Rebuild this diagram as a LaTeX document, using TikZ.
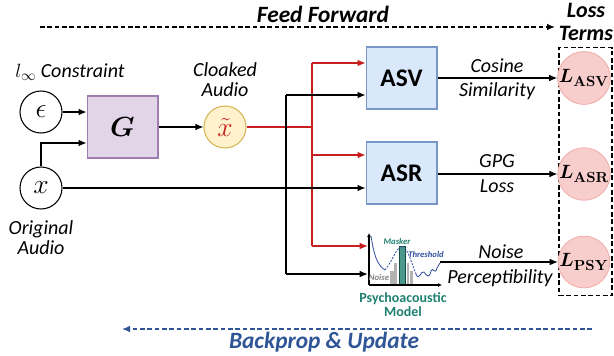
\documentclass[tikz,border=0pt]{standalone}
\usepackage{amsmath,bm}
\usepackage[no-math]{fontspec}
\setmainfont{Carlito}
\usetikzlibrary{arrows.meta}
\definecolor{redl}{RGB}{200,30,30}
\definecolor{asvfill}{RGB}{218,232,252}
\definecolor{asvdraw}{RGB}{120,150,200}
\definecolor{gfill}{RGB}{225,213,231}
\definecolor{gdraw}{RGB}{160,125,175}
\definecolor{xtfill}{RGB}{255,242,204}
\definecolor{xtdraw}{RGB}{214,182,86}
\definecolor{lfill}{RGB}{248,206,204}
\definecolor{ldraw}{RGB}{240,170,168}
\definecolor{bpblue}{RGB}{47,85,151}
\definecolor{psyteal}{RGB}{30,128,112}
\definecolor{curveblue}{RGB}{50,80,160}
\begin{document}
\begin{tikzpicture}[x=0.75pt,y=-0.75pt,
  arr/.style={-{Latex[length=6pt,width=5pt]}, line width=0.8pt},
  redln/.style={draw=redl, line width=0.8pt},
  redarr/.style={redln, -{Latex[length=6pt,width=5pt]}},
  circ/.style={circle, draw, line width=0.8pt, minimum size=31.5pt, inner sep=0pt, font=\fontsize{20}{20}\selectfont},
  lossc/.style={circle, fill=lfill, draw=ldraw, line width=0.6pt, minimum size=36pt, inner sep=0pt, font=\fontsize{15}{15}\selectfont},
  modbox/.style={draw=asvdraw, fill=asvfill, line width=1pt, minimum width=53pt, minimum height=46.5pt, inner sep=0pt, font=\fontsize{19}{20}\selectfont\bfseries},
  gbox/.style={draw=gdraw, fill=gfill, line width=1pt, minimum width=53pt, minimum height=46.5pt, inner sep=0pt, font=\fontsize{22}{22}\selectfont},
  lbl/.style={font=\fontsize{15}{15}\selectfont\itshape, align=center, inner sep=0pt},
  hdr/.style={font=\fontsize{17.5}{18}\selectfont\bfseries\itshape, align=center, inner sep=0pt},
  tiny/.style={font=\fontsize{6.5}{6.5}\selectfont\bfseries\itshape, inner sep=0pt}
]
\useasboundingbox (0,0) rectangle (614,355);

% headers
\node[hdr] (ff) at (323,14) {Feed Forward};
\coordinate (ffs) at (40,27);
\coordinate (ffe) at (555,27);
\draw[dashed, dash pattern=on 3.5pt off 2pt, line width=1pt, -{Latex[length=6pt,width=5pt]}] (ffs) -- (ffe);
\node[hdr, font=\fontsize{16.5}{17}\selectfont\bfseries\itshape] (lt) at (586,22) {Loss\\Terms};

% inputs
\node[circ] (eps) at (41,112) {$\epsilon$};
\node[circ] (x) at (41,188) {$x$};
\node[lbl] (lc) at (70,72) {$l_\infty$ Constraint};
\node[lbl] (oa) at (41,238) {Original\\Audio};
\node[gbox] (G) at (122.5,127) {$\bm{G}$};
\node[circ, fill=xtfill, draw=xtdraw] (xt) at (225,127) {$\color{redl}\tilde{x}$};
\node[lbl] (ca) at (225,80) {Cloaked\\Audio};

\draw[arr] (eps) -- (eps -| G.west);
\draw[arr] (x.north) |- ([yshift=-12pt]G.west);
\draw[arr] (G) -- (xt);

% models
\node[modbox] (asv) at (401.5,78) {ASV};
\node[modbox] (asr) at (401.5,173) {ASR};
\node[minimum width=54pt, minimum height=40pt, inner sep=0pt] (psy) at (404,259.5) {};

% loss terms
\node[draw, dashed, dash pattern=on 3.5pt off 2pt, line width=1pt, minimum width=39.75pt, minimum height=186pt] (lbox) at (585.5,171.5) {};
\node[lossc] (lasv) at (584,78) {$\bm{L}_{\mathbf{ASV}}$};
\node[lossc] (lasr) at (584,174) {$\bm{L}_{\mathbf{ASR}}$};
\node[lossc] (lpsy) at (584,262) {$\bm{L}_{\mathbf{PSY}}$};

% red branches
\coordinate (r1) at (312,63);
\coordinate (r2) at (312,155);
\coordinate (r3) at (312,246);
\draw[redln] (xt) -- (xt -| r1);
\draw[redln] (r1) -- (r3);
\draw[redarr] (r1) -- (r1 -| asv.west);
\draw[redarr] (r2) -- (r2 -| asr.west);
\draw[redarr] (r3) -- (r3 -| psy.west);

% black branches
\coordinate (b1) at (286,95);
\coordinate (b3) at (286,274);
\draw[line width=0.8pt] (b1) -- (b3);
\draw[arr] (b1) -- (b1 -| asv.west);
\draw[arr] (b3) -- (b3 -| psy.west);
\draw[arr] (x) -- (x -| asr.west);

% outputs
\draw[arr] (asv) -- (lasv);
\draw[arr] (asr.east |- lasr) -- (lasr);
\draw[arr] (psy.east |- lpsy) -- (lpsy);
\node[lbl] (l1) at (497,66) {Cosine};
\node[lbl] (l2) at (497,91) {Similarity};
\node[lbl] (l3) at (497,161) {GPG};
\node[lbl] (l4) at (497,186) {Loss};
\node[lbl] (l5) at (501,252) {Noise};
\node[lbl] (l6) at (500,278) {Perceptibility};

% psychoacoustic icon
\fill[gray!60] (390,271) rectangle (393.5,285);
\fill[gray!60] (394,263) rectangle (397,285);
\fill[gray!60] (406.5,263) rectangle (409,285);
\fill[gray!60] (410,271) rectangle (413,285);
\draw[fill=psyteal!80, draw=psyteal!60!black, line width=0.4pt] (399,246) rectangle (405,285);
\draw[curveblue, line width=0.6pt] (371,236) .. controls (374,255) and (377,265) .. (385,270);
\draw[curveblue, line width=0.6pt, dashed, dash pattern=on 1.5pt off 1pt] (385,270) .. controls (392,262) and (396,248) .. (402,246) .. controls (408,248) and (411,262) .. (416,274);
\draw[curveblue, line width=0.6pt] (416,274) .. controls (419,282) and (421,270) .. (424,272) .. controls (427,276) and (429,279) .. (431,271) .. controls (433,266) and (435,276) .. (437,268) -- (440,263);
\draw[line width=0.8pt, -{Latex[length=3pt,width=3pt]}] (369,285) -- (369,233);
\draw[line width=0.8pt, -{Latex[length=3pt,width=3pt]}] (369,285) -- (442,285);
\node[tiny, text=psyteal] (mk) at (397,241) {Masker};
\node[tiny, text=curveblue] (th) at (426,254) {Threshold};
\node[tiny, text=gray] (ns) at (379,277) {Noise};
\node[font=\fontsize{10.5}{10.5}\selectfont\bfseries, text=psyteal, align=center, inner sep=0pt] (pm) at (403,305) {Psychoacoustic\\Model};

% backprop
\coordinate (bps) at (592,329);
\coordinate (bpe) at (122,329);
\draw[bpblue, dashed, dash pattern=on 3.5pt off 2pt, line width=1pt, -{Latex[length=6pt,width=5pt]}] (bps) -- (bpe);
\node[hdr, text=bpblue] (bp) at (324,342) {Backprop \& Update};
\end{tikzpicture}
\end{document}
